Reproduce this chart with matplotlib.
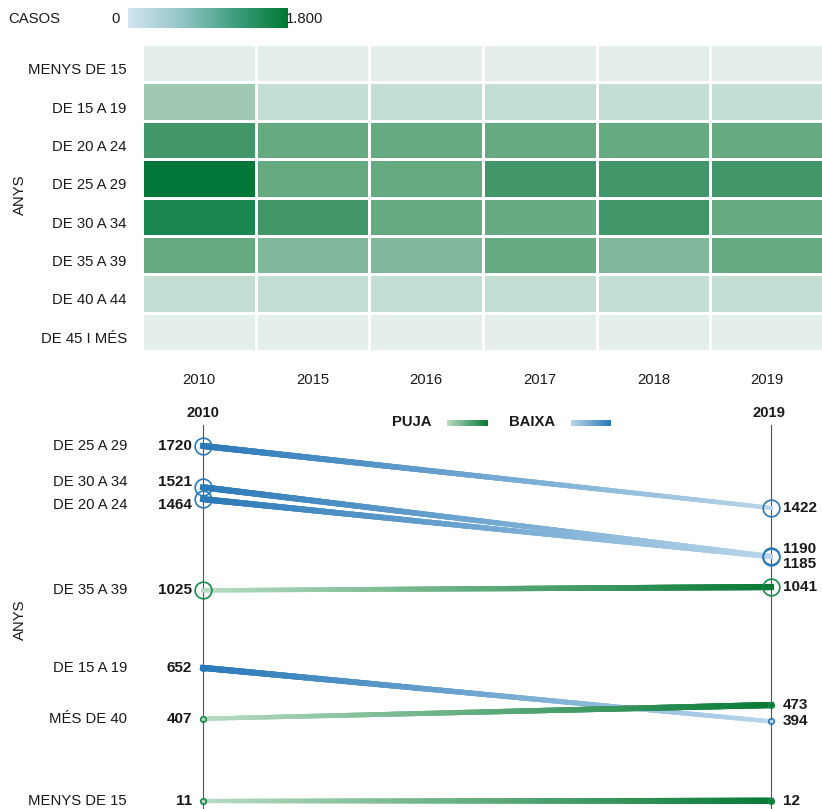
import matplotlib
matplotlib.use('Agg')
import matplotlib.pyplot as plt
import numpy as np
from matplotlib.colors import ListedColormap, BoundaryNorm, LinearSegmentedColormap, to_rgb
from matplotlib.collections import LineCollection

# --- data ---
heat_years = ['2010', '2015', '2016', '2017', '2018', '2019']
heat_groups = ['MENYS DE 15', 'DE 15 A 19', 'DE 20 A 24', 'DE 25 A 29',
               'DE 30 A 34', 'DE 35 A 39', 'DE 40 A 44', 'DE 45 I MÉS']
cases_lt15 = [11, 10, 9, 12, 10, 12]
cases_15_19 = [652, 480, 455, 430, 410, 394]
cases_20_24 = [1464, 1250, 1220, 1200, 1190, 1185]
cases_25_29 = [1720, 1240, 1270, 1380, 1400, 1422]
cases_30_34 = [1521, 1350, 1260, 1230, 1330, 1190]
cases_35_39 = [1025, 930, 920, 1010, 960, 1041]
cases_40_44 = [380, 390, 400, 410, 420, 430]
cases_45plus = [27, 30, 32, 35, 38, 43]

slope_groups = ['DE 25 A 29', 'DE 30 A 34', 'DE 20 A 24', 'DE 35 A 39',
                'DE 15 A 19', 'MÉS DE 40', 'MENYS DE 15']
cases_2010 = [1720, 1521, 1464, 1025, 652, 407, 11]
cases_2019 = [1422, 1190, 1185, 1041, 394, 473, 12]

# colour steps of the heatmap
bounds = [0, 250, 500, 800, 1000, 1300, 1500, 1650, 1800]
steps = ['#e4efea', '#c3dfd3', '#a0c9b4', '#82b99c', '#66aa82', '#41966a', '#1b8750', '#007638']

plt.rcParams['font.family'] = ['Liberation Sans', 'DejaVu Sans']
plt.rcParams['font.size'] = 10.7
TXT = '#1a1a1a'
BLUE_D, BLUE_L = '#2a79b8', '#b8d6ea'
GREEN_D, GREEN_L = '#087a36', '#b7dcc3'

W, H = 822, 809
fig = plt.figure(figsize=(W / 100, H / 100), dpi=100)


def box(x0, y0, x1, y1):
    return [x0 / W, 1 - y1 / H, (x1 - x0) / W, (y1 - y0) / H]


def ftext(x, y, s, **kw):
    fig.text(x / W, 1 - y / H, s, color=TXT, **kw)


# --- heatmap ---
grid = np.array([cases_lt15, cases_15_19, cases_20_24, cases_25_29,
                 cases_30_34, cases_35_39, cases_40_44, cases_45plus])
ax = fig.add_axes(box(142, 44, 824, 351))
ax.pcolormesh(grid, cmap=ListedColormap(steps), norm=BoundaryNorm(bounds, len(steps)),
              edgecolor='white', linewidth=1.9)
ax.set_xlim(0, 6)
ax.set_ylim(8, 0)
ax.set_xticks(np.arange(6) + 0.5, heat_years)
ax.set_yticks(np.arange(8) + 0.5, heat_groups)
ax.tick_params(length=0, labelcolor=TXT)
ax.tick_params(axis='x', pad=15.5)
ax.tick_params(axis='y', pad=11)
for t in ax.get_yticklabels():
    t.set_va('top')
for s in ax.spines.values():
    s.set_visible(False)

ftext(20, 195, 'ANYS', rotation=90, ha='center', va='center')

# colour legend
ftext(8, 19, 'CASOS', ha='left', va='center')
ftext(120, 19, '0', ha='right', va='center')
ftext(286, 19, '1.800', ha='left', va='center')
cax = fig.add_axes(box(128, 8, 287, 28))
legend_cmap = LinearSegmentedColormap.from_list('casos', ['#d3e5f0', '#93c6c6', '#3f9f80', '#007a31'])
cax.imshow(np.linspace(0, 1, 256)[None, :], aspect='auto', cmap=legend_cmap)
cax.axis('off')

# --- slope chart ---
sx = fig.add_axes(box(203, 425, 771, 809))
sx.set_xlim(2010, 2019)
sx.set_ylim(-27.5, 1821)
sx.axis('off')
for yr in (2010, 2019):
    sx.axvline(yr, color='#555555', lw=0.8, zorder=1, clip_on=False)
ftext(203, 413, '2010', ha='center', va='center', fontweight='bold')
ftext(769, 413, '2019', ha='center', va='center', fontweight='bold')


def grad_line(x0, y0, x1, y1, c0, c1, w0, w1, n=200):
    t = np.linspace(0, 1, n + 1)
    xs = x0 + (x1 - x0) * t
    ys = y0 + (y1 - y0) * t
    pts = np.column_stack([xs, ys])
    segs = np.stack([pts[:-1], pts[1:]], axis=1)
    tm = (t[:-1] + t[1:]) / 2
    cols = (1 - tm)[:, None] * np.array(to_rgb(c0)) + tm[:, None] * np.array(to_rgb(c1))
    lc = LineCollection(segs, colors=cols, linewidths=w0 + (w1 - w0) * tm,
                        capstyle='projecting', zorder=2, clip_on=False)
    sx.add_collection(lc)


def spread(ys, gap):
    ys = np.array(ys, float)
    order = np.argsort(ys)
    for _ in range(50):
        moved = False
        for a, b in zip(order[:-1], order[1:]):
            d = ys[b] - ys[a]
            if d < gap - 0.01:
                ys[a] -= (gap - d) / 2
                ys[b] += (gap - d) / 2
                moved = True
        if not moved:
            break
    return ys


for v0, v1 in zip(cases_2010, cases_2019):
    if v1 >= v0:
        grad_line(2010, v0, 2019, v1, GREEN_L, GREEN_D, 3.0, 4.4)
        mc = '#178a48'
    else:
        grad_line(2010, v0, 2019, v1, BLUE_D, BLUE_L, 4.4, 3.0)
        mc = BLUE_D
    for x, v in ((2010, v0), (2019, v1)):
        sx.plot([x], [v], 'o', ms=12 if v >= 1000 else 4, mfc='none', mec=mc,
                mew=1.2, zorder=4, clip_on=False)

# labels, pushed apart where they collide (display pixels)
to_px = sx.transData.transform
left_y = spread([to_px((2010, v))[1] for v in cases_2010], 23)
right_y = spread([to_px((2019, v))[1] for v in cases_2019], 15)
for name, v0, v1, yl, yr in zip(slope_groups, cases_2010, cases_2019, left_y, right_y):
    fig.text(127 / W, yl / H, name, ha='right', va='center', color=TXT)
    fig.text(192 / W, yl / H, str(v0), ha='right', va='center', color=TXT,
             fontweight='bold', fontsize=11)
    fig.text(783 / W, yr / H, str(v1), ha='left', va='center', color=TXT,
             fontweight='bold', fontsize=11)

ftext(20, 620, 'ANYS', rotation=90, ha='center', va='center')

# up / down legend
ftext(392, 422, 'PUJA', ha='left', va='center', fontweight='bold')
ftext(509, 422, 'BAIXA', ha='left', va='center', fontweight='bold')
for (x0, x1), cols in (((447, 487), [GREEN_L, GREEN_D]), ((571, 611), [BLUE_L, BLUE_D])):
    lax = fig.add_axes(box(x0, 420, x1, 426))
    lax.imshow(np.linspace(0, 1, 64)[None, :], aspect='auto',
               cmap=LinearSegmentedColormap.from_list('g', cols))
    lax.axis('off')

fig.savefig('out.png', dpi=100)
